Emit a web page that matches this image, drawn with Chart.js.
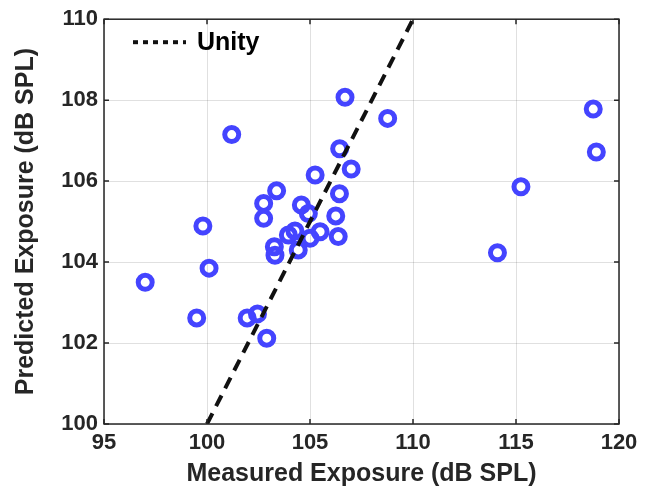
<!DOCTYPE html>
<html>
<head>
<meta charset="utf-8">
<script src="https://cdn.jsdelivr.net/npm/chart.js@4.4.0/dist/chart.umd.min.js"></script>
<style>
  html, body { margin: 0; padding: 0; background: #fff; }
  #wrap { width: 648px; height: 491px; }
</style>
</head>
<body>
<div id="wrap"><canvas id="chart" width="648" height="491"></canvas></div>
<script>
// measured vs predicted exposure, dB SPL
const measured = [97.0, 99.5, 99.8, 100.1, 101.2, 101.95, 102.45, 102.9, 102.75, 102.75,
  103.38, 103.27, 103.3, 103.95, 104.27, 104.43, 104.58, 104.92, 105.0, 105.49,
  105.25, 106.25, 106.37, 106.43, 106.44, 106.7, 107.0, 108.77, 114.1, 115.24,
  118.75, 118.9];
const predicted = [103.5, 102.62, 104.89, 103.85, 107.15, 102.62, 102.72, 102.12, 105.45, 105.08,
  105.76, 104.38, 104.17, 104.67, 104.77, 104.3, 105.41, 105.2, 104.59, 104.75,
  106.15, 105.14, 104.63, 105.69, 106.8, 108.07, 106.3, 107.55, 104.23, 105.86,
  107.78, 106.72];
const unityLine = [100, 110];
const xTicks = [95, 100, 105, 110, 115, 120];
const yTicks = [100, 102, 104, 106, 108, 110];

const ink = "#262626";

/* ---- box + inward ticks + legend ---- */
const frame = {
  id: "frame",
  afterDraw(chart) {
    const { ctx, chartArea: a, scales } = chart;
    ctx.save();
    ctx.strokeStyle = ink;
    ctx.lineWidth = 1.5;
    ctx.strokeRect(a.left, a.top, a.right - a.left, a.bottom - a.top);
    ctx.beginPath();
    xTicks.forEach(v => {
      const x = scales.x.getPixelForValue(v);
      ctx.moveTo(x, a.bottom); ctx.lineTo(x, a.bottom - 5);
      ctx.moveTo(x, a.top); ctx.lineTo(x, a.top + 5);
    });
    yTicks.forEach(v => {
      const y = scales.y.getPixelForValue(v);
      ctx.moveTo(a.left, y); ctx.lineTo(a.left + 5, y);
      ctx.moveTo(a.right, y); ctx.lineTo(a.right - 5, y);
    });
    ctx.stroke();

    // legend
    ctx.strokeStyle = "#111";
    ctx.lineWidth = 4;
    ctx.setLineDash([5, 5]);
    ctx.beginPath();
    ctx.moveTo(a.left + 29, a.top + 23);
    ctx.lineTo(a.left + 82, a.top + 23);
    ctx.stroke();
    ctx.setLineDash([]);
    ctx.fillStyle = "#000";
    ctx.font = "bold 25px 'Liberation Sans', Arial, sans-serif";
    ctx.textBaseline = "middle";
    ctx.fillText("Unity", a.left + 93, a.top + 24);
    ctx.restore();
  }
};

const tickFont = { family: "'Liberation Sans', Arial, sans-serif", size: 22, weight: "bold" };
const titleFont = { family: "'Liberation Sans', Arial, sans-serif", size: 25, weight: "bold" };
const gridColor = "rgba(0,0,0,0.12)";

new Chart(document.getElementById("chart"), {
  type: "scatter",
  data: {
    datasets: [
      {
        label: "Unity",
        data: unityLine.map(v => ({ x: v, y: v })),
        showLine: true,
        borderColor: "#111",
        borderWidth: 4,
        borderDash: [12, 8],
        pointRadius: 0,
        fill: false
      },
      {
        label: "Data",
        data: measured.map((m, i) => ({ x: m, y: predicted[i] })),
        pointRadius: 7,
        pointHoverRadius: 7,
        borderWidth: 5,
        borderColor: "#4444ff",
        backgroundColor: "rgba(0,0,0,0)"
      }
    ]
  },
  options: {
    responsive: false,
    devicePixelRatio: 1,
    animation: false,
    layout: { padding: { top: 19, right: 29, left: 0, bottom: 0 } },
    plugins: { legend: { display: false }, tooltip: { enabled: false } },
    scales: {
      x: {
        type: "linear",
        min: 95, max: 120,
        afterBuildTicks: s => { s.ticks = xTicks.map(v => ({ value: v })); },
        afterFit: s => { s.height = 67; },
        grid: { color: gridColor, drawTicks: false },
        border: { display: false },
        ticks: { color: ink, font: tickFont, padding: 6, maxRotation: 0 },
        title: { display: true, text: "Measured Exposure (dB SPL)", color: ink, font: titleFont, padding: { top: 0, bottom: 2 } }
      },
      y: {
        type: "linear",
        min: 100, max: 110,
        afterBuildTicks: s => { s.ticks = yTicks.map(v => ({ value: v })); },
        afterFit: s => { s.width = 104; },
        grid: { color: gridColor, drawTicks: false },
        border: { display: false },
        ticks: { color: ink, font: tickFont, padding: 6 },
        title: { display: true, text: "Predicted Exposure (dB SPL)", color: ink, font: titleFont, padding: { top: 11, bottom: 0 } }
      }
    }
  },
  plugins: [frame]
});
</script>
</body>
</html>
